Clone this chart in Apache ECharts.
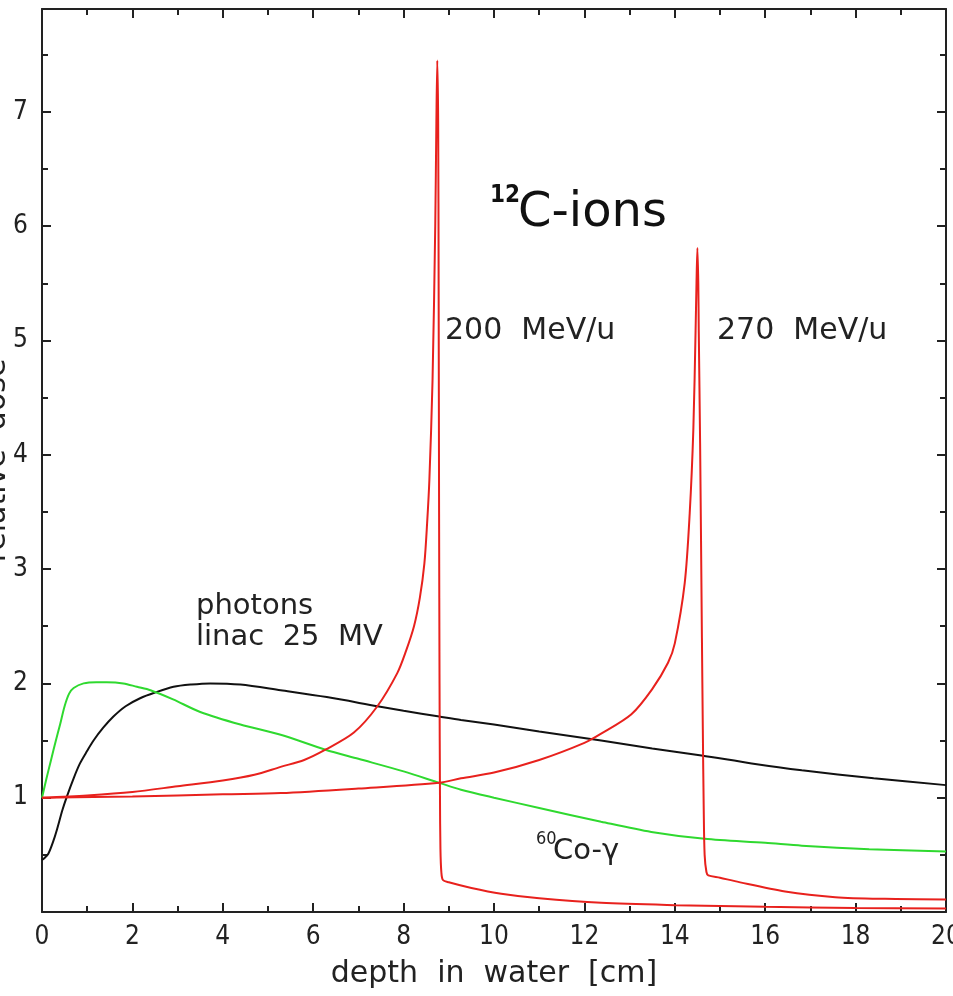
<!DOCTYPE html>
<html><head><meta charset="utf-8">
<script src="https://cdn.jsdelivr.net/npm/echarts@6/dist/echarts.min.js"></script>
<style>html,body{margin:0;padding:0;background:#fff}#c{width:953px;height:996px}</style>
</head><body><div id="c"></div>
<script>
// photons, linac 25 MV (black)
const photonsX = [0,0.05,0.14,0.25,0.33,0.45,0.55,0.7,0.84,1.0,1.14,1.35,1.58,1.85,2.17,2.5,2.91,3.3,3.72,4.39,5.28,6.3,7.42,8.0,8.79,9.27,10,11,12.37,13.5,14.59,15.7,16.81,18.4,20];
const photonsY = [0.455,0.47,0.51,0.62,0.72,0.89,1.01,1.17,1.30,1.41,1.50,1.61,1.71,1.80,1.87,1.92,1.97,1.99,2.0,1.99,1.94,1.88,1.80,1.76,1.71,1.68,1.64,1.58,1.50,1.43,1.37,1.30,1.24,1.17,1.11];
// 60Co-gamma (green)
const cobaltX = [0,0.1,0.2,0.3,0.4,0.5,0.6,0.7,0.92,1.2,1.43,1.8,2.1,2.4,2.9,3.5,4.39,5.28,6.27,7.0,8.0,8.79,9.27,10,11,12.37,13.48,14.66,16.0,16.81,18.3,20];
const cobaltY = [1.0,1.17,1.33,1.49,1.64,1.80,1.91,1.96,2.0,2.01,2.01,2.0,1.97,1.94,1.86,1.75,1.64,1.55,1.42,1.34,1.23,1.13,1.07,1.0,0.91,0.79,0.70,0.64,0.605,0.58,0.55,0.53];
// 12C ions 200 MeV/u (red)
const c200X = [0,1,2,3,4,4.7,5.28,5.8,6.27,6.9,7.42,7.86,8.05,8.23,8.36,8.46,8.52,8.57,8.64,8.70,8.725,8.745,8.765,8.775,8.785,8.795,8.805,8.815,8.835,8.87,9.0,9.5,10.16,11,12.37,14,16,18,20];
const c200Y = [1.0,1.02,1.05,1.10,1.15,1.20,1.27,1.33,1.42,1.57,1.80,2.09,2.28,2.50,2.75,3.05,3.4,3.78,4.65,6.0,6.9,7.45,6.9,5.5,3.5,2.0,1.0,0.55,0.35,0.28,0.26,0.21,0.16,0.12,0.08,0.06,0.045,0.035,0.03];
// 12C ions 270 MeV/u (red)
const c270X = [0,2,4,5.28,7,8.79,9.27,10,11,12,12.37,13.04,13.5,13.85,14.0,14.22,14.33,14.41,14.46,14.48,14.50,14.52,14.53,14.56,14.60,14.62,14.64,14.66,14.70,14.74,15.0,15.33,16.44,17.55,18.65,20];
const c270Y = [1.0,1.01,1.03,1.04,1.08,1.13,1.17,1.22,1.33,1.48,1.56,1.73,1.95,2.18,2.35,2.88,3.49,4.22,5.09,5.5,5.81,5.5,5.09,4.1,2.4,1.6,0.9,0.5,0.35,0.32,0.30,0.27,0.18,0.13,0.115,0.11];
const xTickLabels = [0,2,4,6,8,10,12,14,16,18,20];
const yTickLabels = [1,2,3,4,5,6,7];

const pairs = (xs, ys) => xs.map((x, i) => [x, ys[i]]);
const AX = '#222';
const NUMFONT = "'DejaVu Sans Condensed','DejaVu Sans',sans-serif";
const TXTFONT = "'DejaVu Sans',sans-serif";

function xAx(pos, labels) {
  return {
    type: 'value', position: pos, min: 0, max: 20, interval: 2,
    axisLine: {show: true, onZero: false, lineStyle: {color: AX, width: 2}},
    axisTick: {show: true, inside: true, length: 9, lineStyle: {color: AX, width: 2}},
    minorTick: {show: true, splitNumber: 2, length: 6, lineStyle: {color: AX, width: 2}},
    splitLine: {show: false}, minorSplitLine: {show: false},
    axisLabel: {show: labels, margin: 12, fontSize: 26, color: '#222', fontFamily: NUMFONT,
      formatter: v => xTickLabels.includes(v) ? String(v) : ''},
    name: labels ? 'depth  in  water  [cm]' : '', nameLocation: 'middle', nameGap: 47, nameMoveOverlap: false,
    nameTextStyle: {fontSize: 30, color: '#222', fontFamily: TXTFONT}
  };
}
function yAx(pos, major, labels) {
  return {
    type: 'value', position: pos, min: 0, max: 7.9, interval: major ? 1 : 0.5,
    axisLine: {show: major, onZero: false, lineStyle: {color: AX, width: 2}},
    axisTick: {show: true, inside: true, length: major ? 9 : 6, lineStyle: {color: AX, width: 2}},
    splitLine: {show: false},
    axisLabel: {show: labels, margin: 14, fontSize: 26, color: '#222', fontFamily: NUMFONT,
      formatter: v => yTickLabels.includes(v) ? String(v) : ''},
    name: labels ? 'relative  dose' : '', nameLocation: 'middle', nameGap: 30, nameMoveOverlap: false,
    nameTextStyle: {fontSize: 30, color: '#222', fontFamily: TXTFONT}
  };
}

const chart = echarts.init(document.getElementById('c'), null, {renderer: 'canvas'});
const lineS = (data, color) => ({
  type: 'line', data, showSymbol: false, symbol: 'none', smooth: 0.3, clip: true,
  lineStyle: {color, width: 2}, animation: false, z: 3
});
chart.setOption({
  backgroundColor: '#fff',
  animation: false,
  grid: {left: 42, right: 7, top: 9, bottom: 84, containLabel: false, outerBoundsMode: 'none'},
  xAxis: [xAx('bottom', true), xAx('top', false)],
  yAxis: [yAx('left', true, true), yAx('left', false, false), yAx('right', true, false), yAx('right', false, false)],
  series: [
    lineS(pairs(photonsX, photonsY), '#111'),
    lineS(pairs(cobaltX, cobaltY), '#2fd92f'),
    lineS(pairs(c200X, c200Y), '#e8211d'),
    lineS(pairs(c270X, c270Y), '#e8211d')
  ],
  graphic: [
    {type: 'text', x: 490, y: 196, style: {text: '12', font: "bold 24px 'DejaVu Sans Condensed'", fill: '#111', verticalAlign: 'middle'}},
    {type: 'text', x: 518, y: 214, style: {text: 'C-ions', font: "48px 'DejaVu Sans'", fill: '#111', verticalAlign: 'middle'}},
    {type: 'text', x: 445, y: 331, style: {text: '200  MeV/u', font: "30px 'DejaVu Sans'", fill: '#222', verticalAlign: 'middle'}},
    {type: 'text', x: 717, y: 331, style: {text: '270  MeV/u', font: "30px 'DejaVu Sans'", fill: '#222', verticalAlign: 'middle'}},
    {type: 'text', x: 196, y: 606, style: {text: 'photons', font: "29px 'DejaVu Sans'", fill: '#222', verticalAlign: 'middle'}},
    {type: 'text', x: 196, y: 637, style: {text: 'linac  25  MV', font: "29px 'DejaVu Sans'", fill: '#222', verticalAlign: 'middle'}},
    {type: 'text', x: 536, y: 839, style: {text: '60', font: "18px 'DejaVu Sans Condensed'", fill: '#222', verticalAlign: 'middle'}},
    {type: 'text', x: 553, y: 851, style: {text: 'Co-γ', font: "29px 'DejaVu Sans'", fill: '#222', verticalAlign: 'middle'}}
  ]
});
</script></body></html>
